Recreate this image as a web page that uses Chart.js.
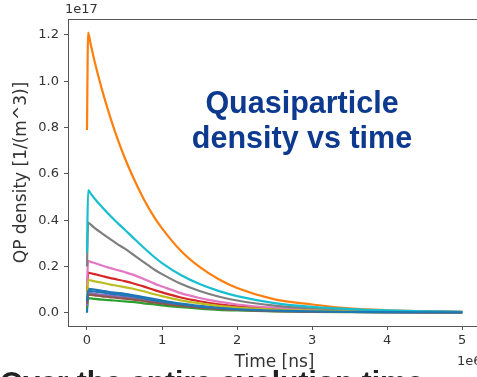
<!DOCTYPE html>
<html>
<head>
<meta charset="utf-8">
<script src="https://cdn.jsdelivr.net/npm/chart.js@4/dist/chart.umd.min.js"></script>
<style>
  html, body { margin: 0; padding: 0; width: 477px; height: 377px; overflow: hidden; background: #fff; }
  #wrap { position: absolute; left: 0; top: 0; width: 490px; height: 377px; }
  .headline {
    position: absolute; left: 152px; top: 85px; width: 300px;
    font: bold 30.5px "Liberation Sans", Arial, sans-serif; line-height: 35px;
    color: #0d3a8e; text-align: center;
  }
  .cutline {
    position: absolute; left: 0; top: 364px; white-space: nowrap;
    font: bold 30px "Liberation Sans", Arial, sans-serif; line-height: 35px; color: #222;
  }
</style>
</head>
<body>
<div id="wrap"><canvas id="chart" width="490" height="377"></canvas></div>
<div class="headline">Quasiparticle<br>density vs time</div>
<div class="cutline">Over the entire evolution time</div>
<script>
// time in units of 1e6 ns, density in units of 1e17 1/m^3
const times = [0, 0.015, 0.05, 0.1, 0.2, 0.3, 0.4, 0.5, 0.6, 0.75, 0.9, 1, 1.25, 1.5, 1.75, 2, 2.5, 3, 3.5, 4, 4.5, 5];

const blue   = [0.0, 0.104, 0.102, 0.100, 0.095, 0.090, 0.086, 0.082, 0.077, 0.068, 0.059, 0.053, 0.040, 0.030, 0.022, 0.017, 0.010, 0.0066, 0.0047, 0.0035, 0.0026, 0.0019];
const orange = [0.79, 1.21, 1.159, 1.088, 0.964, 0.855, 0.758, 0.672, 0.596, 0.495, 0.411, 0.365, 0.268, 0.198, 0.146, 0.107, 0.058, 0.036, 0.019, 0.011, 0.007, 0.004];
const green  = [0.02, 0.063, 0.062, 0.060, 0.057, 0.055, 0.052, 0.049, 0.047, 0.041, 0.036, 0.032, 0.024, 0.018, 0.013, 0.010, 0.0061, 0.004, 0.0028, 0.0021, 0.0016, 0.0012];
const red    = [0.09, 0.174, 0.171, 0.167, 0.159, 0.151, 0.144, 0.137, 0.129, 0.114, 0.098, 0.088, 0.066, 0.050, 0.037, 0.028, 0.017, 0.011, 0.008, 0.006, 0.004, 0.003];
const purple = [0.03, 0.086, 0.085, 0.082, 0.078, 0.075, 0.071, 0.068, 0.064, 0.056, 0.049, 0.044, 0.033, 0.025, 0.018, 0.014, 0.0084, 0.0055, 0.0039, 0.0029, 0.0021, 0.0016];
const brown  = [0.04, 0.078, 0.077, 0.075, 0.071, 0.068, 0.064, 0.061, 0.058, 0.051, 0.044, 0.040, 0.030, 0.022, 0.017, 0.013, 0.0076, 0.005, 0.0035, 0.0026, 0.0019, 0.0014];
const pink   = [0.12, 0.224, 0.220, 0.215, 0.204, 0.194, 0.185, 0.176, 0.166, 0.147, 0.126, 0.114, 0.085, 0.064, 0.048, 0.036, 0.022, 0.014, 0.010, 0.0075, 0.0055, 0.004];
const gray   = [0.20, 0.39, 0.381, 0.367, 0.343, 0.320, 0.298, 0.278, 0.255, 0.220, 0.186, 0.167, 0.125, 0.094, 0.0706, 0.053, 0.0306, 0.0185, 0.0118, 0.0075, 0.005, 0.0034];
const olive  = [0.07, 0.142, 0.140, 0.136, 0.130, 0.123, 0.117, 0.111, 0.105, 0.093, 0.080, 0.072, 0.054, 0.041, 0.030, 0.023, 0.014, 0.009, 0.006, 0.005, 0.0035, 0.0026];
const cyan   = [0.26, 0.53, 0.515, 0.494, 0.457, 0.422, 0.390, 0.360, 0.329, 0.283, 0.240, 0.215, 0.163, 0.124, 0.0946, 0.0722, 0.0421, 0.0255, 0.0163, 0.0104, 0.0066, 0.0042];
const blue2  = [0.05, 0.096, 0.094, 0.092, 0.088, 0.083, 0.079, 0.075, 0.071, 0.063, 0.054, 0.049, 0.037, 0.027, 0.021, 0.015, 0.0094, 0.0061, 0.0043, 0.0032, 0.0024, 0.0018];

const xTicks = [0, 1, 2, 3, 4, 5];
const yTicks = [0, 0.2, 0.4, 0.6, 0.8, 1.0, 1.2];

// matplotlib draw order, last one on top
const series = [
  { values: blue,   color: "#1f77b4" },
  { values: orange, color: "#ff7f0e" },
  { values: green,  color: "#2ca02c" },
  { values: red,    color: "#d62728" },
  { values: purple, color: "#9467bd" },
  { values: brown,  color: "#8c564b" },
  { values: pink,   color: "#e377c2" },
  { values: gray,   color: "#7f7f7f" },
  { values: olive,  color: "#bcbd22" },
  { values: cyan,   color: "#17becf" },
  { values: blue2,  color: "#1f77b4" },
];

const tickFont = { family: "'DejaVu Sans', sans-serif", size: 13 };
const titleFont = { family: "'DejaVu Sans', sans-serif", size: 17 };
const axisColor = "#555";
const textColor = "#333";

// frame around the plot plus the offset labels
const framePlugin = {
  id: "frame",
  afterDraw: function (chart) {
    const ctx = chart.ctx;
    const a = chart.chartArea;
    ctx.save();
    ctx.strokeStyle = axisColor;
    ctx.lineWidth = 1;
    ctx.strokeRect(a.left + 0.5, a.top + 0.5, a.right - a.left, a.bottom - a.top);
    ctx.fillStyle = textColor;
    ctx.font = "13px 'DejaVu Sans', sans-serif";
    ctx.textAlign = "left";
    ctx.textBaseline = "alphabetic";
    ctx.fillText("1e17", 65, 13);
    ctx.textBaseline = "middle";
    ctx.fillText("1e6", 457, 362);
    ctx.restore();
  },
};

new Chart(document.getElementById("chart"), {
  type: "line",
  data: {
    datasets: series.map(function (s, i) {
      return {
        data: times.map(function (t, k) { return { x: t, y: s.values[k] }; }),
        borderColor: s.color,
        backgroundColor: s.color,
        borderWidth: 2.2,
        pointRadius: 0,
        fill: false,
        cubicInterpolationMode: "monotone",
        order: series.length - i,
      };
    }),
  },
  options: {
    responsive: false,
    devicePixelRatio: 1,
    animation: false,
    layout: { padding: { top: 19, right: 9, left: 0, bottom: 0 } },
    plugins: { legend: { display: false }, tooltip: { enabled: false } },
    scales: {
      x: {
        type: "linear",
        min: -0.253,
        max: 5.25,
        afterFit: function (scale) { scale.height = 51; },
        afterBuildTicks: function (scale) { scale.ticks = xTicks.map(function (v) { return { value: v }; }); },
        grid: { drawOnChartArea: false, drawTicks: true, tickLength: 4, color: axisColor },
        border: { display: true, color: axisColor },
        ticks: { font: tickFont, color: textColor, padding: 3, maxRotation: 0, callback: function (v) { return String(v); } },
        title: { display: true, text: "Time [ns]", font: titleFont, color: textColor, padding: { top: 0, bottom: 4 } },
      },
      y: {
        type: "linear",
        min: -0.057,
        max: 1.269,
        afterFit: function (scale) { scale.width = 68; },
        afterBuildTicks: function (scale) { scale.ticks = yTicks.map(function (v) { return { value: v }; }); },
        grid: { drawOnChartArea: false, drawTicks: true, tickLength: 4, color: axisColor },
        border: { display: true, color: axisColor },
        ticks: { font: tickFont, color: textColor, padding: 5, callback: function (v) { return v.toFixed(1); } },
        title: { display: true, text: "QP density [1/(m^3)]", font: titleFont, color: textColor, padding: { top: 11, bottom: 0 } },
      },
    },
  },
  plugins: [framePlugin],
});
</script>
</body>
</html>
